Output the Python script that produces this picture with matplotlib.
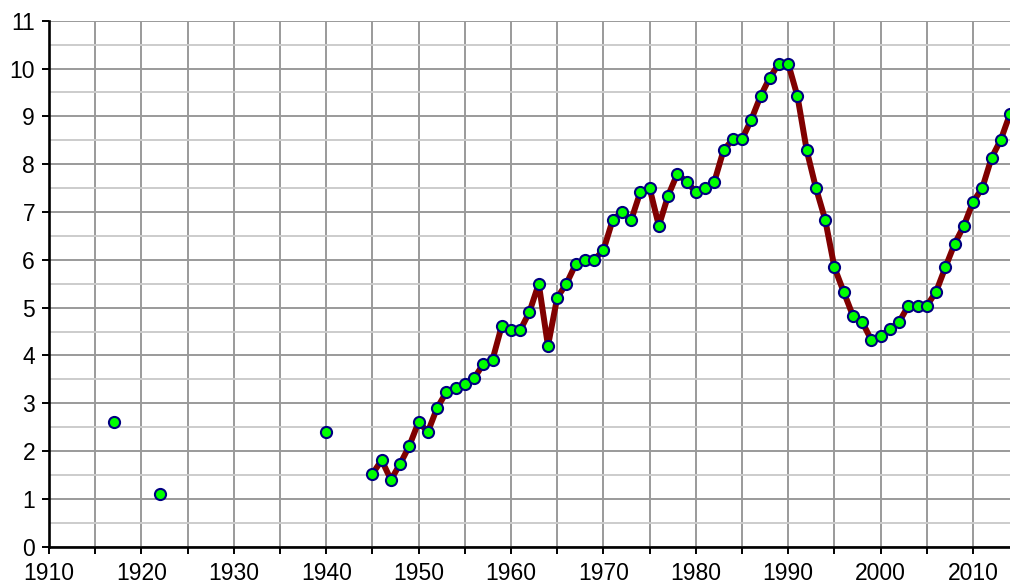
import numpy as np
import matplotlib
matplotlib.use("Agg")
import matplotlib.pyplot as plt
from matplotlib.ticker import MultipleLocator

plt.rcParams['font.family'] = ['Liberation Sans', 'DejaVu Sans']

# isolated early observations (not joined by the line)
early_years = [1917, 1922, 1940]
early_vals = [2.60, 1.10, 2.40]

# yearly series from 1945
years = list(range(1945, 2015))
vals = [1.52, 1.81, 1.40, 1.73, 2.11, 2.61, 2.40, 2.90, 3.23, 3.32,
        3.41, 3.52, 3.82, 3.91, 4.62, 4.53, 4.53, 4.91, 5.50, 4.20,
        5.21, 5.50, 5.91, 6.00, 6.00, 6.20, 6.83, 7.00, 6.83, 7.42,
        7.50, 6.71, 7.34, 7.80, 7.63, 7.42, 7.50, 7.63, 8.29, 8.52,
        8.52, 8.93, 9.42, 9.81, 10.10, 10.10, 9.42, 8.29, 7.50, 6.84,
        5.84, 5.33, 4.83, 4.70, 4.32, 4.41, 4.55, 4.70, 5.04, 5.04,
        5.04, 5.33, 5.84, 6.33, 6.71, 7.21, 7.50, 8.13, 8.51, 9.05]

fig = plt.figure(figsize=(10.10, 5.87), dpi=100)
ax = fig.add_axes([0.0485, 0.0687, 0.9515, 0.896])

mk = dict(marker='o', markersize=8, markerfacecolor='#00ff00',
          markeredgecolor='#000080', markeredgewidth=1.5)
ax.plot(years, vals, color='#800000', linewidth=4.3, zorder=3, **mk)
ax.plot(early_years, early_vals, linestyle='none', zorder=3, **mk)

ax.set_xlim(1910, 2014)
ax.set_ylim(0, 11)
ax.xaxis.set_major_locator(MultipleLocator(5))
ax.yaxis.set_major_locator(MultipleLocator(1))
ax.yaxis.set_minor_locator(MultipleLocator(0.5))
ax.set_xticklabels([str(int(t)) if int(t) % 10 == 0 else '' for t in ax.get_xticks()])

ax.grid(True, which='major', color='#9a9a9a', linewidth=1.4, zorder=0)
ax.grid(True, which='minor', axis='y', color='#cccccc', linewidth=1.4, zorder=0)
ax.set_axisbelow(True)

for s in ['top', 'right']:
    ax.spines[s].set_visible(False)
for s in ['left', 'bottom']:
    ax.spines[s].set_color('black')
    ax.spines[s].set_linewidth(1.9)
    ax.spines[s].set_zorder(4)

ax.tick_params(axis='both', which='major', direction='out', length=5,
               width=1.4, color='black', labelsize=16.5)
ax.tick_params(axis='y', which='minor', length=0)
ax.tick_params(axis='y', pad=5)
ax.tick_params(axis='x', pad=6)

fig.savefig('out.png', dpi=100)
